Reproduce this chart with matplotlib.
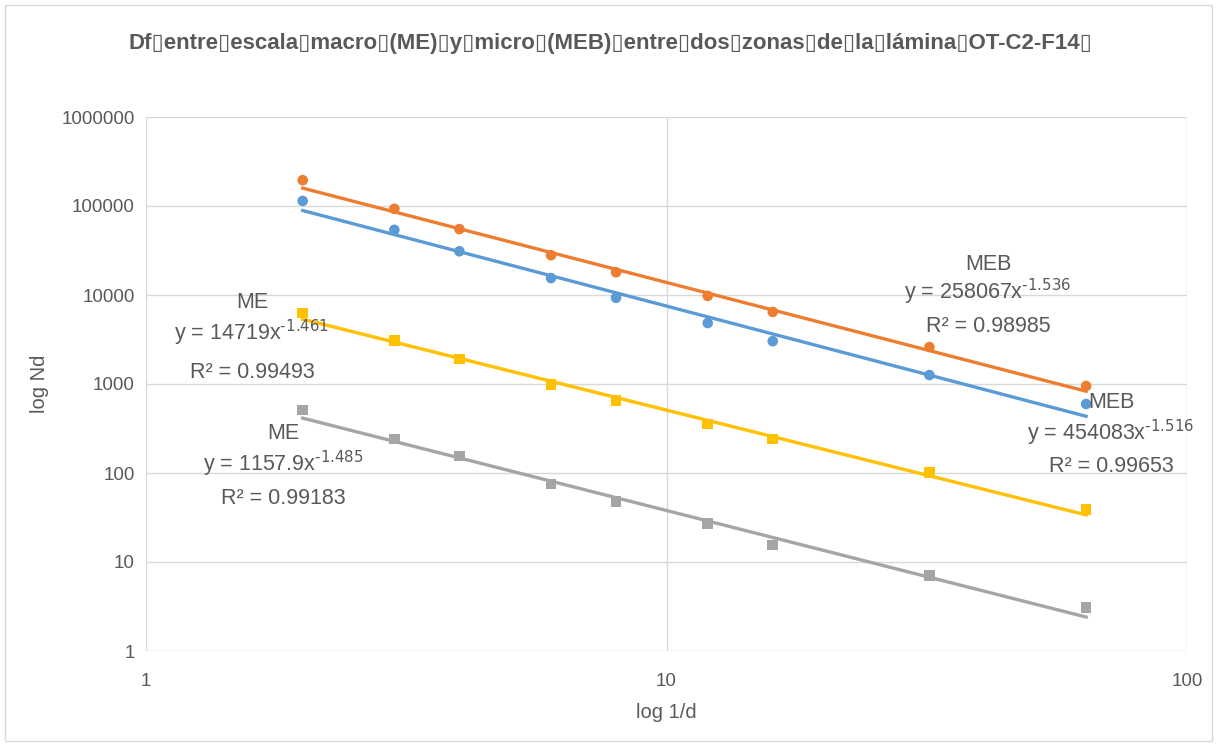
import numpy as np
import matplotlib
matplotlib.use("Agg")
import matplotlib.pyplot as plt
from matplotlib.ticker import FixedLocator, FixedFormatter, NullLocator

plt.rcParams['font.family'] = ['Liberation Sans', 'DejaVu Sans']
plt.rcParams['mathtext.default'] = 'regular'

# box sizes 1/d
inv_d = [2, 3, 4, 6, 8, 12, 16, 32, 64]

# counts Nd per series
meb_blue = [114000, 54000, 31000, 15500, 9300, 4840, 3030, 1260, 596]
meb_orange = [195000, 93000, 55000, 28000, 18000, 9770, 6450, 2600, 950]
me_yellow = [6300, 3100, 1900, 980, 650, 355, 240, 102, 39]
me_gray = [510, 240, 155, 75, 48, 27, 15.5, 7, 3.1]

# power trendlines y = a * x^b as printed on the chart
fit_a = [258067, 454083, 14719, 1157.9]
fit_b = [-1.536, -1.516, -1.461, -1.485]
fit_r2 = ["0.98985", "0.99653", "0.99493", "0.99183"]
fit_name = ["MEB", "MEB", "ME", "ME"]

series = [meb_blue, meb_orange, me_yellow, me_gray]
colors = ["#5B9BD5", "#ED7D31", "#FFC000", "#A5A5A5"]
markers = ["o", "o", "s", "s"]

title = ("Df\u25afentre\u25afescala\u25afmacro\u25af(ME)\u25afy\u25afmicro\u25af(MEB)"
         "\u25afentre\u25afdos\u25afzonas\u25afde\u25afla\u25aflámina\u25afOT-C2-F14\u25af")

W, H = 1217, 746
fig = plt.figure(figsize=(W / 100, H / 100), dpi=100)
fig.patch.set_facecolor("white")
ax = fig.add_axes([146 / W, 1 - 651 / H, (1187 - 146) / W, (651 - 117) / H])

ax.set_xscale("log")
ax.set_yscale("log")
ax.set_xlim(1, 100)
ax.set_ylim(1, 1e6)

xs = np.array(inv_d, dtype=float)
xl = np.linspace(xs.min(), xs.max(), 200)
for vals, a, b, c, m in zip(series, fit_a, fit_b, colors, markers):
    ax.plot(xl, a * xl ** b, color=c, lw=2.4, zorder=3)
    ax.scatter(xs, vals, color=c, marker=m, s=58, zorder=4, edgecolors="none")

ax.grid(True, which="major", color="#D9D9D9", lw=1)
ax.set_axisbelow(True)
for s in ax.spines.values():
    s.set_visible(False)
ax.xaxis.set_major_locator(FixedLocator([1, 10, 100]))
ax.xaxis.set_major_formatter(FixedFormatter(["1", "10", "100"]))
ax.yaxis.set_major_locator(FixedLocator([1, 10, 100, 1000, 1e4, 1e5, 1e6]))
ax.yaxis.set_major_formatter(FixedFormatter(["1", "10", "100", "1000", "10000", "100000", "1000000"]))
ax.xaxis.set_minor_locator(NullLocator())
ax.yaxis.set_minor_locator(NullLocator())
ax.tick_params(length=0, labelsize=13.5, colors="#595959", pad=8)
ax.tick_params(axis="x", pad=16)

ax.set_xlabel("log 1/d", fontsize=14.5, color="#595959")
ax.set_ylabel("log Nd", fontsize=14.5, color="#595959")
ax.xaxis.set_label_coords(0.5, -(712 - 651) / (651 - 117))
ax.yaxis.set_label_coords(-(146 - 40) / (1187 - 146), 0.5)
ax.xaxis.label.set_va("center")
ax.yaxis.label.set_va("center")

fig.text(610 / W, 1 - 44 / H, title, ha="center", va="center", fontsize=16,
         fontweight="bold", color="#595959")

# trendline labels: centre pixel of the three lines for each fit
label_pos = [(988, 264, 292, 327), (1111, 402, 433, 467), (252, 303, 333, 372), (283, 433, 464, 498)]
for (cx, y1, y2, y3), name, a, b, r2 in zip(label_pos, fit_name, fit_a, fit_b, fit_r2):
    a_txt = str(int(a)) if float(a).is_integer() else str(a)
    eq = "y = " + a_txt + "x$^{\\text{" + str(b) + "}}$"
    for txt, yy in [(name, y1), (eq, y2), ("R² = " + r2, y3)]:
        fig.text(cx / W, 1 - yy / H, txt, ha="center", va="center", fontsize=15.5, color="#595959")

fig.patches.append(plt.Rectangle((5 / W, 5 / H), (W - 10) / W, (H - 10) / H, transform=fig.transFigure,
                                 fill=False, edgecolor="#D9D9D9", lw=1))

fig.savefig("out.png", dpi=100)
